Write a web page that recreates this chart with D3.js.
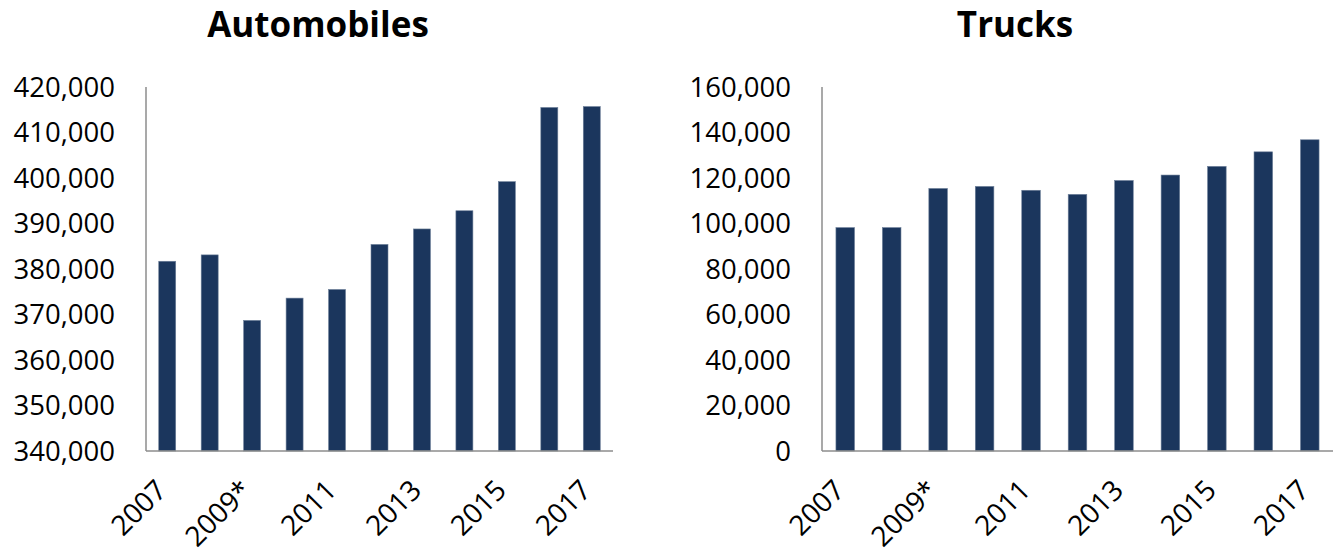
<!DOCTYPE html>
<html>
<head>
<meta charset="utf-8">
<script src="https://cdn.jsdelivr.net/npm/d3@7"></script>
<style>
   body { margin: 0; background: #fff; }
   svg { display: block; }
   text { font-family: "Open Sans", "Noto Sans", sans-serif; fill: #000; }
</style>
</head>
<body>
<div id="chart"></div>
<script>
"use strict";

const years = ["2007", "2008", "2009*", "2010", "2011", "2012", "2013", "2014", "2015", "2016", "2017"];
const shownYears = ["2007", "2009*", "2011", "2013", "2015", "2017"];

const autoValues = [381700, 383100, 368700, 373600, 375500, 385400, 388800, 392800, 399200, 415500, 415700];
const autoTicks = [340000, 350000, 360000, 370000, 380000, 390000, 400000, 410000, 420000];

const truckValues = [98200, 98200, 115400, 116300, 114600, 112800, 118900, 121300, 125100, 131500, 136800];
const truckTicks = [0, 20000, 40000, 60000, 80000, 100000, 120000, 140000, 160000];

(function () {
   const width = 1343;
   const height = 550;
   const barColour = "#1b365d";
   const axisColour = "#8c8c8c";
   const fmt = d3.format(",");

   const svg = d3.select("#chart").append("svg")
      .attr("width", width)
      .attr("height", height);

   function drawPanel(opts) {
      const x = d3.scaleBand()
         .domain(years)
         .range([opts.left, opts.right])
         .paddingInner(0.6)
         .paddingOuter(0.3);

      const y = d3.scaleLinear()
         .domain(opts.domain)
         .range([451, 87]);

      const g = svg.append("g");

      g.append("text")
         .attr("x", opts.titleX)
         .attr("y", 37)
         .attr("text-anchor", "middle")
         .style("font-size", "35px")
         .style("font-weight", "bold")
         .text(opts.title);

      g.selectAll("rect.bar")
         .data(opts.values)
         .enter()
         .append("rect")
         .attr("class", "bar")
         .attr("x", (d, i) => x(years[i]))
         .attr("width", x.bandwidth())
         .attr("y", d => y(d))
         .attr("height", d => y(opts.domain[0]) - y(d))
         .attr("fill", barColour)
         .attr("stroke", "#6d7f98")
         .attr("stroke-width", 0.6);

      // axis lines, no tick marks
      g.append("line")
         .attr("x1", opts.left).attr("x2", opts.left)
         .attr("y1", y.range()[1]).attr("y2", y.range()[0])
         .attr("stroke", axisColour)
         .attr("stroke-width", 1.5);

      g.append("line")
         .attr("x1", opts.left).attr("x2", opts.right)
         .attr("y1", y.range()[0]).attr("y2", y.range()[0])
         .attr("stroke", axisColour)
         .attr("stroke-width", 1.5);

      g.selectAll("text.ytick")
         .data(opts.ticks)
         .enter()
         .append("text")
         .attr("class", "ytick")
         .attr("x", opts.left - 31)
         .attr("y", d => y(d))
         .attr("dy", "0.36em")
         .attr("text-anchor", "end")
         .style("font-size", "27.5px")
         .text(fmt);

      g.selectAll("text.xtick")
         .data(shownYears)
         .enter()
         .append("text")
         .attr("class", "xtick")
         .attr("transform", d => {
            const cx = x(d) + x.bandwidth() / 2;
            return `translate(${cx + 1},${y.range()[0] + 41}) rotate(-45)`;
         })
         .attr("text-anchor", "end")
         .style("font-size", "28px")
         .text(d => d);
   }

   drawPanel({
      title: "Automobiles",
      titleX: 318,
      left: 146,
      right: 613,
      domain: [340000, 420000],
      ticks: autoTicks,
      values: autoValues
   });

   drawPanel({
      title: "Trucks",
      titleX: 1015,
      left: 822,
      right: 1333,
      domain: [0, 160000],
      ticks: truckTicks,
      values: truckValues
   });
})();
</script>
</body>
</html>
